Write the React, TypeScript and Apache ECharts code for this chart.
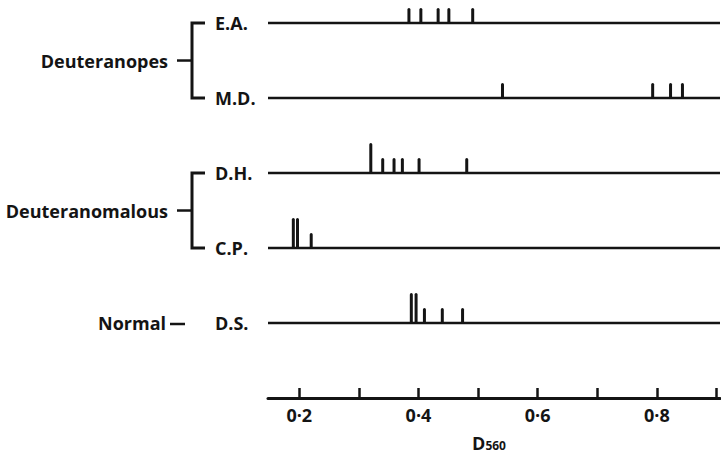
import { useEffect, useRef } from 'react';
import * as echarts from 'echarts';

// ---- data ----
const X_MIN = 0.1475;
const X_MAX = 0.906;
const Y_MAX = 5.307;
const subjects = ['D.S.', 'C.P.', 'D.H.', 'M.D.', 'E.A.']; // rows 1..5
const rowPositions = [1, 2, 3, 4, 5];
const xTickValues = [0.2, 0.3, 0.4, 0.5, 0.6, 0.7, 0.8, 0.9];
const xLabelValues = [0.2, 0.4, 0.6, 0.8];

const eaValues = [0.384, 0.404, 0.433, 0.451, 0.491];
const eaCounts = [1, 1, 1, 1, 1];
const mdValues = [0.541, 0.793, 0.823, 0.843];
const mdCounts = [1, 1, 1, 1];
const dhValues = [0.32, 0.34, 0.359, 0.373, 0.401, 0.481];
const dhCounts = [2, 1, 1, 1, 1, 1];
const cpValues = [0.19, 0.197, 0.22];
const cpCounts = [2, 2, 1];
const dsValues = [0.388, 0.396, 0.41, 0.44, 0.474];
const dsCounts = [2, 2, 1, 1, 1];

const groupNames = ['Deuteranopes', 'Deuteranomalous', 'Normal'];
const groupRowFrom = [4, 2, 1];
const groupRowTo = [5, 3, 1];

// ---- styling ----
const INK = '#141414';
const FONT = '"Open Sans"';
const FW = 700;
const FS = 18;
const COUNT_UNIT = 0.2;

export default function App() {
  const ref = useRef<HTMLDivElement>(null);

  useEffect(() => {
    if (!ref.current) return;
    const chart = echarts.init(ref.current, undefined, { renderer: 'svg' });

    const rowsValues = [dsValues, cpValues, dhValues, mdValues, eaValues];
    const rowsCounts = [dsCounts, cpCounts, dhCounts, mdCounts, eaCounts];
    const tickData: number[][] = [];
    rowsValues.forEach((vals, i) => {
      vals.forEach((v, j) => tickData.push([v, rowPositions[i], rowsCounts[i][j]]));
    });

    const fmt = (v: number) => v.toFixed(1).replace('.', '\u00B7');

    chart.setOption({
      animation: false,
      backgroundColor: '#ffffff',
      grid: { left: 268, right: 1, top: 0, bottom: 59, containLabel: false, outerBoundsMode: 'none' },
      xAxis: {
        type: 'value',
        min: X_MIN,
        max: X_MAX,
        splitLine: { show: false },
        axisLine: { show: true, lineStyle: { color: INK, width: 3 } },
        axisTick: {
          show: true,
          inside: true,
          length: 10,
          customValues: xTickValues,
          lineStyle: { color: INK, width: 2.5 },
        },
        axisLabel: {
          customValues: xLabelValues,
          formatter: fmt,
          color: INK,
          fontFamily: FONT,
          fontWeight: FW,
          fontSize: FS,
          margin: 8,
        },
        name: '{d|D}{s|560}',
        nameLocation: 'middle',
        nameGap: 36,
        nameTextStyle: {
          padding: [0, 10, 0, 0],
          rich: {
            d: { fontFamily: FONT, fontWeight: FW, fontSize: 18, color: INK, lineHeight: 17 },
            s: {
              fontFamily: FONT,
              fontWeight: 700,
              fontSize: 12,
              color: INK,
              lineHeight: 12,
              padding: [5, 0, 0, 0],
              verticalAlign: 'bottom',
            },
          },
        },
      },
      yAxis: {
        type: 'value',
        min: 0,
        max: Y_MAX,
        splitLine: { show: false },
        axisLine: { show: false },
        axisTick: { show: false },
        axisLabel: {
          customValues: rowPositions,
          formatter: (v: number) => subjects[Math.round(v) - 1] ?? '',
          align: 'left',
          margin: 53,
          color: INK,
          fontFamily: FONT,
          fontWeight: FW,
          fontSize: FS,
        },
      },
      series: [
        {
          type: 'custom',
          name: 'rows',
          data: rowPositions.map((r) => [X_MIN, r, X_MAX]),
          encode: { x: [0, 2], y: 1 },
          silent: true,
          renderItem: (_p: any, api: any) => {
            const a = api.coord([api.value(0), api.value(1)]);
            const b = api.coord([api.value(2), api.value(1)]);
            return {
              type: 'line',
              shape: { x1: a[0], y1: a[1], x2: b[0], y2: b[1] },
              style: { stroke: INK, lineWidth: 2.6 },
            };
          },
        },
        {
          type: 'custom',
          name: 'observations',
          data: tickData,
          encode: { x: 0, y: 1 },
          silent: true,
          renderItem: (_p: any, api: any) => {
            const x = api.value(0);
            const row = api.value(1);
            const n = api.value(2);
            const base = api.coord([x, row]);
            const top = api.coord([x, row + n * COUNT_UNIT]);
            return {
              type: 'rect',
              shape: { x: base[0] - 1.5, y: top[1], width: 3, height: base[1] - top[1] + 1, r: [1.5, 1.5, 0, 0] },
              style: { fill: INK },
            };
          },
        },
      ],
    });

    // brackets and group labels, positioned through the y axis scale
    const py = (r: number) => (chart.convertToPixel({ gridIndex: 0 }, [X_MIN, r]) as number[])[1];
    const elements: any[] = [];
    groupNames.forEach((name, i) => {
      const y1 = py(groupRowTo[i]);
      const y2 = py(groupRowFrom[i]);
      const mid = (y1 + y2) / 2;
      if (groupRowFrom[i] !== groupRowTo[i]) {
        elements.push({
          type: 'polyline',
          shape: { points: [[205, y1], [192, y1], [192, y2], [205, y2]] },
          style: { stroke: INK, lineWidth: 3, fill: null },
        });
        elements.push({
          type: 'line',
          shape: { x1: 177, y1: mid, x2: 192, y2: mid },
          style: { stroke: INK, lineWidth: 2.5 },
        });
        elements.push({
          type: 'text',
          x: 168,
          y: mid,
          style: {
            text: name,
            align: 'right',
            verticalAlign: 'middle',
            fill: INK,
            font: `${FW} ${FS}px ${FONT}`,
          },
        });
      } else {
        elements.push({
          type: 'line',
          shape: { x1: 170, y1: mid + 1, x2: 185, y2: mid + 1 },
          style: { stroke: INK, lineWidth: 2.5 },
        });
        elements.push({
          type: 'text',
          x: 166,
          y: mid,
          style: {
            text: name,
            align: 'right',
            verticalAlign: 'middle',
            fill: INK,
            font: `${FW} ${FS}px ${FONT}`,
          },
        });
      }
    });
    chart.setOption({ graphic: { elements } });

    return () => chart.dispose();
  }, []);

  return (
    <div
      ref={ref}
      style={{ position: 'absolute', left: 0, top: 0, width: 721, height: 457, background: '#fff' }}
    />
  );
}
